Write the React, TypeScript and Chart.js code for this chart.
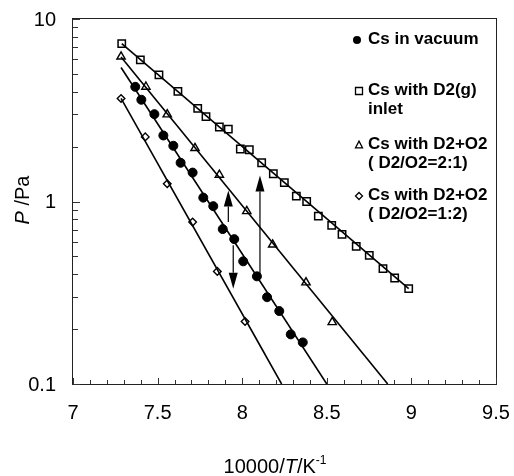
import React, { useEffect, useRef } from 'react';
import { Chart, registerables } from 'chart.js';

Chart.register(...registerables);

const FONT = '"Liberation Sans", Arial, Helvetica, sans-serif';

// ---- data (x = 10000/T, y = P in Pa) ----
const vacuumX = [7.368, 7.404, 7.481, 7.534, 7.593, 7.636, 7.707, 7.770, 7.829, 7.885, 7.953, 8.006, 8.087, 8.147, 8.219, 8.287, 8.358];
const vacuumP = [4.25, 3.61, 3.01, 2.30, 2.02, 1.63, 1.44, 1.05, 0.943, 0.706, 0.622, 0.470, 0.389, 0.299, 0.251, 0.187, 0.169];

const d2X = [7.288, 7.398, 7.508, 7.620, 7.737, 7.786, 7.865, 7.918, 7.989, 8.042, 8.115, 8.184, 8.249, 8.320, 8.381, 8.450, 8.529, 8.590, 8.674, 8.751, 8.832, 8.901, 8.984];
const d2P = [7.33, 5.97, 4.94, 4.01, 3.24, 2.92, 2.56, 2.49, 1.94, 1.92, 1.63, 1.42, 1.27, 1.07, 1.00, 0.832, 0.740, 0.66, 0.568, 0.507, 0.429, 0.381, 0.333];

const mix21X = [7.284, 7.431, 7.557, 7.721, 7.865, 8.027, 8.180, 8.377, 8.532];
const mix21P = [6.22, 4.25, 3.00, 1.96, 1.40, 0.885, 0.580, 0.360, 0.218];

const mix12X = [7.284, 7.427, 7.557, 7.707, 7.853, 8.017];
const mix12P = [3.67, 2.26, 1.25, 0.771, 0.414, 0.220];

// fitted lines (end points)
const fitVacuumX = [7.284, 8.50];
const fitVacuumP = [5.42, 0.1];
const fitD2X = [7.288, 8.984];
const fitD2P = [7.33, 0.333];
const fit21X = [7.284, 8.86];
const fit21P = [6.2, 0.1];
const fit12X = [7.284, 8.233];
const fit12P = [3.67, 0.1];

// arrows: x, start P, tip P
const arrowX = [7.918, 7.947, 8.105];
const arrowFromP = [0.771, 0.575, 0.394];
const arrowToP = [1.15, 0.333, 1.39];

// axes
const xMin = 7;
const xMax = 9.5;
const xTickLabels = ['7', '7.5', '8', '8.5', '9', '9.5'];
const xTickValues = [7, 7.5, 8, 8.5, 9, 9.5];
const yMajor = [0.1, 1, 10];
const yTickLabels = ['0.1', '1', '10'];

const legendLines = [
  ['Cs in vacuum'],
  ['Cs with D2(g)', 'inlet'],
  ['Cs with D2+O2', '( D2/O2=2:1)'],
  ['Cs with D2+O2', '( D2/O2=1:2)'],
];
const legendMarkers = ['circle', 'rect', 'triangle', 'rectRot'];

const pts = (xs: number[], ys: number[]) => xs.map((x, i) => ({ x, y: ys[i] }));

function drawMarker(ctx: CanvasRenderingContext2D, type: string, x: number, y: number, r: number) {
  ctx.beginPath();
  if (type === 'circle') {
    ctx.arc(x, y, r, 0, Math.PI * 2);
    ctx.fillStyle = '#000';
    ctx.fill();
    return;
  }
  if (type === 'rect') {
    ctx.rect(x - r, y - r, 2 * r, 2 * r);
  } else if (type === 'triangle') {
    ctx.moveTo(x, y - r * 1.1);
    ctx.lineTo(x + r, y + r * 0.8);
    ctx.lineTo(x - r, y + r * 0.8);
    ctx.closePath();
  } else {
    ctx.moveTo(x, y - r);
    ctx.lineTo(x + r, y);
    ctx.lineTo(x, y + r);
    ctx.lineTo(x - r, y);
    ctx.closePath();
  }
  ctx.strokeStyle = '#000';
  ctx.lineWidth = 1.3;
  ctx.stroke();
}

const overlay = {
  id: 'overlay',
  afterDraw(chart: any) {
    const { ctx, chartArea: a, scales } = chart;
    const xs = scales.x;
    const ys = scales.y;
    ctx.save();
    // frame
    ctx.strokeStyle = '#222';
    ctx.lineWidth = 1;
    ctx.strokeRect(Math.round(a.left) - 0.5, Math.round(a.top) - 0.5, Math.round(a.right - a.left) + 1, Math.round(a.bottom - a.top) + 1);

    // x ticks (inward)
    ctx.beginPath();
    for (let i = 0; i <= Math.round((xMax - xMin) * 10); i++) {
      const v = xMin + i * 0.1;
      const px = Math.round(xs.getPixelForValue(v)) + 0.5;
      const len = i % 5 === 0 ? 6 : 4;
      ctx.moveTo(px, a.bottom);
      ctx.lineTo(px, a.bottom - len);
    }
    // y ticks (inward)
    for (let d = 0; d < yMajor.length; d++) {
      const dec = yMajor[d];
      for (let k = 1; k <= 9; k++) {
        const v = dec * k;
        if (v > yMajor[yMajor.length - 1] + 1e-9) break;
        const py = Math.round(ys.getPixelForValue(v)) + 0.5;
        const len = k === 1 ? 7 : 5;
        ctx.moveTo(a.left, py);
        ctx.lineTo(a.left + len, py);
      }
    }
    ctx.strokeStyle = '#333';
    ctx.stroke();

    // tick labels
    ctx.fillStyle = '#000';
    ctx.font = `20px ${FONT}`;
    ctx.textBaseline = 'middle';
    ctx.textAlign = 'center';
    xTickValues.forEach((v, i) => ctx.fillText(xTickLabels[i], xs.getPixelForValue(v), a.bottom + 29));
    ctx.textAlign = 'right';
    yMajor.forEach((v, i) => ctx.fillText(yTickLabels[i], a.left - 17, ys.getPixelForValue(v) + 1));

    // arrows
    ctx.strokeStyle = '#000';
    ctx.fillStyle = '#000';
    for (let i = 0; i < arrowX.length; i++) {
      const px = xs.getPixelForValue(arrowX[i]);
      const y0 = ys.getPixelForValue(arrowFromP[i]);
      const y1 = ys.getPixelForValue(arrowToP[i]);
      const dir = y1 < y0 ? -1 : 1;
      const headLen = 16;
      const headW = 4.5;
      ctx.beginPath();
      ctx.lineWidth = 1.2;
      ctx.moveTo(px, y0);
      ctx.lineTo(px, y1 - dir * headLen);
      ctx.stroke();
      ctx.beginPath();
      ctx.moveTo(px, y1);
      ctx.lineTo(px - headW, y1 - dir * headLen);
      ctx.lineTo(px + headW, y1 - dir * headLen);
      ctx.closePath();
      ctx.fill();
    }

    // legend
    const legendTop = [39, 90, 144, 195];
    const lineGap = 19;
    ctx.font = `bold 17px ${FONT}`;
    ctx.textBaseline = 'middle';
    ctx.textAlign = 'left';
    for (let i = 0; i < legendLines.length; i++) {
      const y0 = legendTop[i];
      const m = legendMarkers[i];
      drawMarker(ctx, m, m === 'circle' ? 357 : 359, y0 + 1, m === 'circle' ? 4 : 3.5);
      ctx.fillStyle = '#000';
      legendLines[i].forEach((t, j) => ctx.fillText(t, 368, y0 + j * lineGap));
    }

    // x title: 10000/T/K^-1
    const parts: [string, string][] = [
      ['10000/', `20px ${FONT}`],
      ['T', `italic 20px ${FONT}`],
      ['/K', `20px ${FONT}`],
    ];
    const sup = '-1';
    const supFont = `12px ${FONT}`;
    let total = 0;
    parts.forEach(([t, f]) => { ctx.font = f; total += ctx.measureText(t).width; });
    ctx.font = supFont;
    total += ctx.measureText(sup).width;
    let cx = 275 - total / 2;
    ctx.textBaseline = 'alphabetic';
    ctx.fillStyle = '#000';
    const baseY = 473;
    parts.forEach(([t, f]) => { ctx.font = f; ctx.fillText(t, cx, baseY); cx += ctx.measureText(t).width; });
    ctx.font = supFont;
    ctx.fillText(sup, cx, baseY - 9);

    // y title: P/Pa rotated
    ctx.save();
    ctx.translate(22, 200);
    ctx.rotate(-Math.PI / 2);
    const yparts: [string, string][] = [
      ['P', `italic 20px ${FONT}`],
      [' /Pa', `20px ${FONT}`],
    ];
    let ytot = 0;
    yparts.forEach(([t, f]) => { ctx.font = f; ytot += ctx.measureText(t).width; });
    let yx = -ytot / 2;
    yparts.forEach(([t, f]) => { ctx.font = f; ctx.fillText(t, yx, 7); yx += ctx.measureText(t).width; });
    ctx.restore();

    ctx.restore();
  },
};

export default function App() {
  const ref = useRef<HTMLCanvasElement | null>(null);
  useEffect(() => {
    if (!ref.current) return;
    const fitStyle = {
      showLine: true,
      pointRadius: 0,
      borderColor: '#000',
      borderWidth: 1.6,
      backgroundColor: '#000',
    };
    const chart = new Chart(ref.current, {
      type: 'scatter',
      data: {
        datasets: [
          { label: 'fit vacuum', data: pts(fitVacuumX, fitVacuumP), ...fitStyle },
          { label: 'fit D2', data: pts(fitD2X, fitD2P), ...fitStyle },
          { label: 'fit 2:1', data: pts(fit21X, fit21P), ...fitStyle },
          { label: 'fit 1:2', data: pts(fit12X, fit12P), ...fitStyle },
          {
            label: 'Cs in vacuum', data: pts(vacuumX, vacuumP), pointStyle: 'circle', pointRadius: 4.5,
            backgroundColor: '#000', borderColor: '#000', borderWidth: 1,
          },
          {
            label: 'Cs with D2(g) inlet', data: pts(d2X, d2P), pointStyle: 'rect', pointRadius: 5.2,
            backgroundColor: 'rgba(255,255,255,0)', borderColor: '#000', borderWidth: 1.5,
          },
          {
            label: 'Cs with D2+O2 (D2/O2=2:1)', data: pts(mix21X, mix21P), pointStyle: 'triangle', pointRadius: 4.8,
            backgroundColor: 'rgba(255,255,255,0)', borderColor: '#000', borderWidth: 1.4,
          },
          {
            label: 'Cs with D2+O2 (D2/O2=1:2)', data: pts(mix12X, mix12P), pointStyle: 'rectRot', pointRadius: 3.8,
            backgroundColor: '#fff', borderColor: '#000', borderWidth: 1.4,
          },
        ],
      },
      options: {
        animation: false,
        responsive: false,
        layout: { padding: { top: 19, right: 18, left: 0, bottom: 0 } },
        plugins: { legend: { display: false }, tooltip: { enabled: false }, title: { display: false } },
        scales: {
          x: {
            type: 'linear',
            min: xMin,
            max: xMax,
            grid: { display: false },
            border: { display: false },
            ticks: { display: false, stepSize: 0.5 },
            afterFit: (s: any) => { s.height = 92; },
          },
          y: {
            type: 'logarithmic',
            min: 0.1,
            max: 10,
            grid: { display: false },
            border: { display: false },
            afterBuildTicks: (s: any) => { s.ticks = yMajor.map((v) => ({ value: v, major: true })); },
            ticks: { display: false },
            afterFit: (s: any) => { s.width = 73; },
          },
        },
      },
      plugins: [overlay],
    });
    return () => chart.destroy();
  }, []);
  return (
    <div style={{ position: 'fixed', left: 0, top: 0, width: 514, height: 476, background: '#fff' }}>
      <canvas ref={ref} width={514} height={476} style={{ display: 'block' }} />
    </div>
  );
}
